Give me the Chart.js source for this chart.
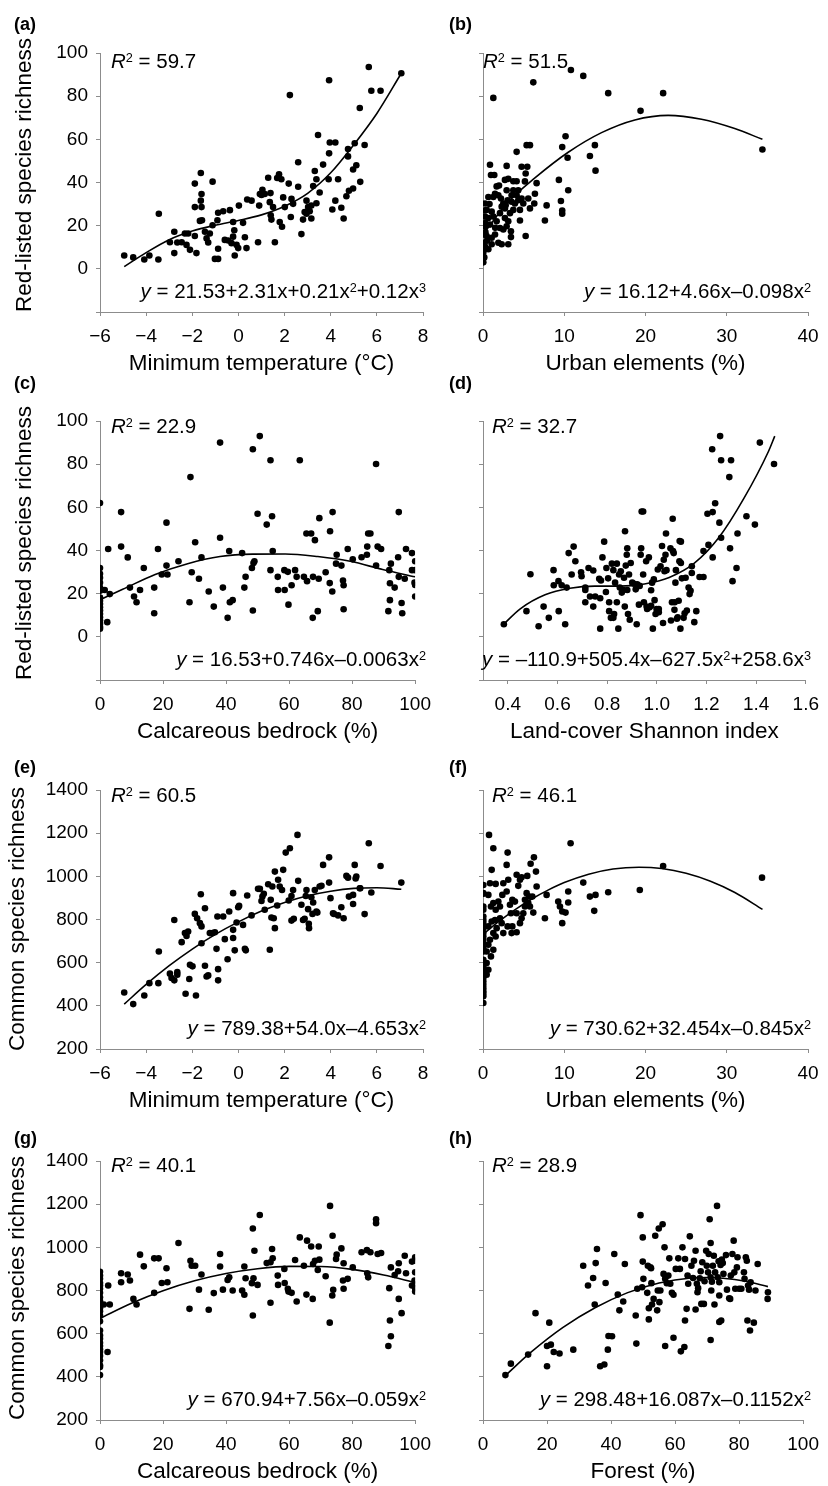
<!DOCTYPE html>
<html>
<head>
<meta charset="utf-8">
<script src="https://cdn.jsdelivr.net/npm/chart.js@4.4.1/dist/chart.umd.min.js"></script>
<style>
  body { margin: 0; background: #fff; }
  #fig { position: relative; width: 828px; height: 1486px; font-family: "Liberation Sans", Arial, sans-serif; color: #000; overflow: hidden; }
  canvas { position: absolute; }
  .t { position: absolute; white-space: nowrap; font-size: 20.5px; line-height: 20px; }
  .lab { font-weight: bold; font-size: 18px; }
  .yt { position: absolute; white-space: nowrap; font-size: 22.5px; line-height: 22px; transform: translate(-50%, -50%) rotate(-90deg); }
  sup { font-size: 0.62em; position: relative; top: -0.5em; vertical-align: baseline; line-height: 0; }
</style>
</head>
<body>
<div id="fig">
  <canvas id="ca" width="440" height="375" style="left:0;top:0"></canvas>
  <canvas id="cb" width="388" height="375" style="left:440px;top:0"></canvas>
  <canvas id="cc" width="440" height="375" style="left:0;top:368px"></canvas>
  <canvas id="cd" width="388" height="375" style="left:440px;top:368px"></canvas>
  <canvas id="ce" width="440" height="375" style="left:0;top:737px"></canvas>
  <canvas id="cf" width="388" height="375" style="left:440px;top:737px"></canvas>
  <canvas id="cg" width="440" height="375" style="left:0;top:1108px"></canvas>
  <canvas id="ch" width="388" height="375" style="left:440px;top:1108px"></canvas>

  <div class="t lab" style="left:14px;top:14px">(a)</div>
  <div class="t lab" style="left:449px;top:14px">(b)</div>
  <div class="t lab" style="left:14px;top:373px">(c)</div>
  <div class="t lab" style="left:449px;top:373px">(d)</div>
  <div class="t lab" style="left:14px;top:757px">(e)</div>
  <div class="t lab" style="left:449px;top:757px">(f)</div>
  <div class="t lab" style="left:14px;top:1128px">(g)</div>
  <div class="t lab" style="left:449px;top:1128px">(h)</div>

  <div class="yt" style="left:24px;top:175px">Red-listed species richness</div>
  <div class="yt" style="left:24px;top:543px">Red-listed species richness</div>
  <div class="yt" style="left:17px;top:919px">Common species richness</div>
  <div class="yt" style="left:17px;top:1288px">Common species richness</div>

  <div class="t" style="left:111px;top:51px"><i>R</i><sup>2</sup> = 59.7</div>
  <div class="t" style="left:483px;top:51px"><i>R</i><sup>2</sup> = 51.5</div>
  <div class="t" style="left:111px;top:416px"><i>R</i><sup>2</sup> = 22.9</div>
  <div class="t" style="left:492px;top:416px"><i>R</i><sup>2</sup> = 32.7</div>
  <div class="t" style="left:111px;top:785px"><i>R</i><sup>2</sup> = 60.5</div>
  <div class="t" style="left:492px;top:785px"><i>R</i><sup>2</sup> = 46.1</div>
  <div class="t" style="left:111px;top:1155px"><i>R</i><sup>2</sup> = 40.1</div>
  <div class="t" style="left:492px;top:1155px"><i>R</i><sup>2</sup> = 28.9</div>

  <div class="t" style="right:402px;top:281px"><i>y</i> = 21.53+2.31x+0.21x<sup>2</sup>+0.12x<sup>3</sup></div>
  <div class="t" style="right:17px;top:281px"><i>y</i> = 16.12+4.66x&#8211;0.098x<sup>2</sup></div>
  <div class="t" style="right:402px;top:649px"><i>y</i> = 16.53+0.746x&#8211;0.0063x<sup>2</sup></div>
  <div class="t" style="right:17px;top:649px"><i>y</i> = &#8211;110.9+505.4x&#8211;627.5x<sup>2</sup>+258.6x<sup>3</sup></div>
  <div class="t" style="right:402px;top:1018px"><i>y</i> = 789.38+54.0x&#8211;4.653x<sup>2</sup></div>
  <div class="t" style="right:17px;top:1018px"><i>y</i> = 730.62+32.454x&#8211;0.845x<sup>2</sup></div>
  <div class="t" style="right:402px;top:1389px"><i>y</i> = 670.94+7.56x&#8211;0.059x<sup>2</sup></div>
  <div class="t" style="right:17px;top:1389px"><i>y</i> = 298.48+16.087x&#8211;0.1152x<sup>2</sup></div>
</div>

<script>
// (a) red-listed richness vs minimum temperature
const ptsA = [[-4.95,6.2],[-4.56,5.3],[-4.08,4.3],[-3.86,6.2],[-3.47,4.3],[-3.45,25.5],[-2.97,12.3],[-2.78,17.2],[-2.78,7.3],[-2.65,12.2],
  [-2.46,12.3],[-2.32,16.4],[-2.25,11.1],[-2.18,16.4],[-2.1,8.8],[-1.89,15.2],[-1.82,7.3],[-1.67,22.2],[-1.89,28.6],[-1.89,39.5],
  [-1.63,44.4],[-1.6,34.7],[-1.63,31.6],[-1.6,28.6],[-1.58,22.5],[-1.45,17.2],[-1.38,14.1],[-1.31,12.2],[-1.24,16.4],[-1.12,40.4],
  [-1.12,20.2],[-1.02,4.6],[-0.88,4.6],[-0.91,22.5],[-0.88,26],[-0.88,9.3],[-0.66,26.7],[-0.59,13.4],[-0.44,13.1],[-0.37,27.2],
  [-0.3,11.9],[-0.23,21.7],[-0.18,17.9],[-0.23,14.9],[-0.16,6.2],[-0.08,11.1],[-0.01,9.6],[0.02,29.3],[0.2,21.3],[0.28,14.6],
  [0.35,9.6],[0.38,32.1],[0.57,31.6],[0.85,12.3],[0.9,29.3],[0.93,34.7],[1,34.2],[1.04,36.6],[1.14,34.7],[1.29,42.2],
  [1.39,35.1],[1.4,24.8],[1.36,30.9],[1.43,22.8],[1.5,28.6],[1.58,12.3],[1.68,42.1],[1.76,43.8],[1.86,41.5],[1.79,21.7],
  [1.89,19.5],[1.94,33.1],[2.01,28.6],[2.23,80.5],[2.18,39.5],[2.27,24],[2.3,32.4],[2.37,30.1],[2.59,49.4],[2.59,38],
  [2.73,16.1],[2.8,22.8],[2.87,26.3],[2.95,31.6],[3.02,28.6],[2.95,25.5],[3.09,26.7],[3.16,23.3],[3.16,29.3],[3.24,38.4],
  [3.31,45.3],[3.38,41.5],[3.38,30.4],[3.45,62],[3.52,35.4],[3.67,48.3],[3.93,87.4],[3.93,53.5],[3.96,58.5],[4.2,58.5],
  [3.91,41.5],[4.07,27.5],[4.2,31.6],[4.32,41.5],[4.46,28.3],[4.56,23.3],[4.68,33.6],[4.75,52.1],[4.75,55.5],[4.79,36.2],
  [4.97,37.2],[4.97,46],[5.11,48],[5.04,58.2],[5.26,74.5],[5.28,40.3],[5.47,57.4],[5.65,93.5],[5.76,82.5],[6.16,82.5],[7.06,90.6]];
const fitA = [[-4.95,1],[-4,7.5],[-3,13.5],[-2,17.5],[-1,20.2],[0,22.4],[1,25],[2,29],[3,35],[4,44.5],[5,57.5],[6,72],[7.06,90.6]];

// (b) red-listed richness vs urban elements
const ptsB = [[1.27,79.2],[6.19,86.4],[10.82,92.1],[12.34,89.4],[15.41,81.4],[19.39,73.2],[22.17,81.4],[34.39,55.3],[10.16,61.4],[9.75,56.4],
  [13.77,57.3],[13.16,52.3],[10.41,51.5],[13.85,45.5],[9.34,41.2],[10.49,36.4],[9.59,31.4],[9.75,27],[9.75,25.5],[7.83,29.4],
  [7.62,22.4],[6.6,39.7],[6.39,34.8],[6.31,30.3],[5.37,57.3],[5.78,57.3],[4.14,54.2],[4.75,47.3],[5.45,47.3],[5.25,44.2],
  [5.16,40.5],[5.25,15.2],[3.44,17.4],[3.11,11.4],[3.44,14.7],[2.91,47.7],[0.86,48.2],[0.98,43.5],[1.39,43.5],[1.97,38.6],
  [1.68,38.2],[2.7,41.2],[3.11,41.7],[3.73,40.6],[4.14,40.6],[2.91,36.4],[3.73,36.4],[4.34,36.4],[4.75,32.6],[4.96,30.3],
  [4.34,31.8],[4.55,27.3],[4.55,22.4],[5.57,32.6],[5.78,28],[3.03,31.8],[2.5,30.3],[2.3,28.8],[1.89,34.1],[1.48,34.8],
  [1.27,33.3],[0.66,33.3],[0.25,30.3],[0.45,27.3],[1.07,26.5],[0.66,23.5],[0.25,21.2],[0.86,20.5],[1.68,22],[2.7,23.5],
  [3.11,22],[3.32,25.8],[3.73,27.3],[2.7,28],[1.48,15.9],[1.07,14.4],[0.45,15.2],[0.04,15.9],[0.04,12.1],[0.25,10.3],
  [0.66,9.1],[1.07,11.4],[1.89,12.1],[2.3,11.4],[0.04,7.6],[0.16,5.3],[0.04,3],[0.25,19.7],[2.09,18.9],[2.5,18.2],
  [2.91,19.7],[3.93,30.3],[0.25,24.2],[1.27,24.2],[2.09,25.8],[3.52,34.1],[2.21,32.6],[2.79,29.5],[3.52,31.1],[4.14,34.1],
  [0.1,9],[0.3,17],[0.5,13],[0.2,27],[0.8,30],[1.5,19]];
const fitB = [[0,16],[3.11,31],[6.39,42.1],[10.49,54],[14.59,63.1],[18.69,69],[22.79,71.1],[26.89,69.3],[30.98,65],[34.39,60]];

// (c) red-listed richness vs calcareous bedrock
const ptsC = [[0,62],[0,31.9],[0,29.2],[0,27.4],[0,25.1],[0,22.8],[0,21.3],[0,18.2],[0,16.7],[0,15.2],[0,13.7],[0,12.2],[0,10.6],
  [0,9.1],[0,7.6],[0,6.1],[0,4.6],[0,3.8],[1.5,21.7],[2.6,40.7],[2.3,6.8],[3.1,19.8],[6.7,57.8],[6.7,41.8],[8.8,36.8],
  [9.5,22.8],[10.8,18.7],[11.6,16],[12.7,21.7],[13.9,31.9],[17.2,22.8],[17.2,10.9],[18.4,40.7],[19.6,28.9],[21.1,52.9],
  [21.1,33],[21.4,28.9],[24.9,35],[28.4,16],[28.7,74],[29.1,29.9],[30.2,43.8],[31.4,26.9],[32.2,36.8],[34.5,21],
  [36.1,14],[38.1,90],[38.1,45.9],[39,22.8],[40.5,8.8],[41,39.8],[41.2,16],[42.1,17],[45.1,38.8],[45.8,22.8],
  [46.2,27.8],[48.2,31.9],[48.5,86.9],[48.5,12.2],[48.7,34.2],[49,35],[50,57],[50.7,93],[52.9,52],[54.1,81.8],
  [54.6,55.9],[54.8,39.8],[54.1,30.9],[56.4,27.8],[56.5,21.7],[58.5,30.9],[58.6,21.7],[59.6,30.1],[59.8,14.9],[60.8,23.9],
  [61.9,30.9],[62.4,27.8],[63.4,81.8],[64.7,27.8],[65.5,47.9],[65.7,25.8],[67,47.9],[67.5,8.8],[67.6,27.8],[68.2,44.8],
  [69.1,11.9],[69.4,26.9],[69.6,55],[71.6,29.9],[72.9,24.9],[73,48.9],[73.8,57.8],[73.7,21],[75.1,38],[74.9,33.9],
  [76.6,33],[77.1,26.1],[77.3,23.9],[77.3,12.8],[78.6,40.7],[80.2,35.9],[83,36.9],[84.7,38],[84.8,41.8],[85.1,47.9],
  [85.8,47.9],[87.6,80.1],[87.6,33],[88.1,41.8],[89.2,40.7],[91.8,30.9],[92,24.8],[92.3,33.9],[92,17],[91.5,11.9],
  [93.5,22.8],[94.6,36.9],[94.8,57.8],[94.8,27.8],[95.7,15.7],[95.9,10.9],[96.7,26.9],[97.1,40.7],[99,38.8],[99,30.9],
  [100,35],[100,30.9],[99.8,25.1],[100,24],[100,18.7]];
const fitC = [[0,17.2],[7.2,22],[17.5,28.9],[27.8,33.9],[38.1,37.2],[48.5,38.3],[58.8,38.4],[69.1,37.2],[79.4,35],[89.7,31.2],[100,27.8]];

// (d) red-listed richness vs land-cover Shannon index
const ptsD = [[0.384,5.8],[0.475,11.9],[0.491,29],[0.524,4.9],[0.544,14],[0.565,8.8],[0.584,30.9],[0.585,23.9],[0.604,25.8],[0.605,11.9],
  [0.617,23.9],[0.631,5.8],[0.637,22.8],[0.645,38.8],[0.657,28.9],[0.665,41.8],[0.672,35],[0.695,29.9],[0.697,28.1],[0.712,22.8],
  [0.712,21.7],[0.712,16],[0.725,31.9],[0.731,18.7],[0.744,30.7],[0.744,14],[0.752,18.7],[0.768,26.9],[0.772,17.9],[0.772,3.8],
  [0.775,26.1],[0.781,36.8],[0.788,44.1],[0.795,20.8],[0.797,31.9],[0.804,27.1],[0.808,16],[0.808,11.9],[0.815,8.8],[0.819,33.9],
  [0.825,30.9],[0.825,8.8],[0.828,10.6],[0.832,25.1],[0.839,16],[0.839,33.9],[0.845,3.8],[0.848,28.9],[0.851,22.8],[0.855,30.4],
  [0.859,20.5],[0.865,21.7],[0.868,27.4],[0.871,14],[0.872,48.9],[0.875,33],[0.879,38],[0.881,21.7],[0.881,41],[0.884,10.6],
  [0.888,28.9],[0.891,7.9],[0.895,34.2],[0.901,25.1],[0.908,24.6],[0.915,22],[0.919,5.8],[0.921,24.3],[0.928,14.9],[0.931,23.6],
  [0.935,38],[0.937,41],[0.939,58.1],[0.945,58.1],[0.945,28.9],[0.948,16],[0.957,35],[0.959,14],[0.961,12.9],[0.968,36.8],
  [0.971,13.7],[0.977,21.6],[0.977,14.4],[0.981,25.1],[0.984,3.8],[0.988,26.6],[0.991,17],[0.995,10.6],[0.999,12.9],[1.004,31.2],
  [1.008,12.9],[1.008,11.4],[1.015,32.7],[1.021,42.1],[1.025,6.4],[1.028,35.7],[1.031,30.4],[1.035,38],[1.037,47.9],[1.039,30.9],
  [1.055,41],[1.057,7.6],[1.061,16],[1.064,54.7],[1.065,39.8],[1.068,38.8],[1.071,12.5],[1.072,16],[1.075,25.1],[1.077,30.9],
  [1.081,8.4],[1.084,9.1],[1.088,16.7],[1.091,35],[1.092,44.4],[1.095,3.8],[1.097,44.1],[1.097,34.2],[1.101,27.1],[1.108,8.8],
  [1.112,10.9],[1.116,27.4],[1.121,12.2],[1.128,22.8],[1.132,19.8],[1.136,21.3],[1.141,32.7],[1.141,29.6],[1.151,6.8],[1.159,11.9],
  [1.172,27.7],[1.188,27.7],[1.188,39.8],[1.204,57],[1.208,42.6],[1.223,86.9],[1.225,57.8],[1.225,36.8],[1.235,61.9],[1.252,52.9],
  [1.255,93],[1.259,45.9],[1.259,81.8],[1.292,74],[1.295,41],[1.299,81.8],[1.305,25.8],[1.321,31.9],[1.325,47.9],[1.361,55.9],
  [1.395,52],[1.415,90],[1.472,80.1]];
const fitD = [[0.38,5.5],[0.45,13],[0.55,19.5],[0.65,22.5],[0.75,23.5],[0.85,23.5],[0.95,24.5],[1.05,27.5],[1.15,34],[1.25,46],
  [1.35,64],[1.45,86],[1.475,93]];

// (e) common richness vs minimum temperature
const ptsE = [[-4.95,462],[-4.56,408],[-4.08,448],[-3.86,505],[-3.47,505],[-3.45,652],[-2.97,549],[-2.9,529],[-2.78,518],[-2.65,556],
  [-2.65,544],[-2.78,798],[-2.46,695],[-2.32,737],[-2.25,724],[-2.18,744],[-2.29,456],[-2.13,524],[-2.1,590],[-1.99,583],
  [-1.84,448],[-1.89,826],[-1.79,806],[-1.67,783],[-1.6,768],[-1.6,690],[-1.63,917],[-1.45,586],[-1.38,536],[-1.31,541],
  [-1.45,852],[-1.24,737],[-1.12,737],[-1.02,741],[-0.95,664],[-0.91,814],[-0.88,570],[-0.88,518],[-0.66,814],[-0.59,709],
  [-0.47,616],[-0.4,837],[-0.23,714],[-0.23,752],[-0.23,922],[-0.16,657],[-0.08,786],[-0.01,857],[0.03,863],[0.2,775],
  [0.28,664],[0.32,657],[0.38,911],[0.57,819],[0.85,942],[0.93,942],[1,886],[1.04,906],[1.1,919],[1.14,845],
  [1.29,963],[1.36,660],[1.4,891],[1.43,809],[1.47,953],[1.53,806],[1.58,760],[1.58,1022],[1.68,865],[1.72,984],
  [1.79,953],[1.89,937],[1.94,1030],[2.05,1110],[2.23,1130],[2.18,888],[2.3,795],[2.3,909],[2.37,937],[2.4,803],
  [2.56,1192],[2.59,979],[2.73,868],[2.8,798],[2.87,803],[2.92,909],[2.95,937],[3.02,848],[3.05,780],[3.06,760],
  [3.16,903],[3.21,826],[3.24,879],[3.31,937],[3.38,837],[3.42,832],[3.52,953],[3.6,956],[3.67,1053],[3.93,1088],
  [3.93,971],[3.99,899],[4.1,829],[4.14,826],[4.32,819],[4.46,857],[4.56,806],[4.68,1002],[4.75,994],[4.79,906],
  [4.97,914],[4.97,872],[5.04,1053],[5.11,999],[5.08,990],[5.26,945],[5.28,945],[5.47,825],[5.65,1153],[5.76,925],
  [6.16,1048],[7.06,971]];
const fitE = [[-4.95,408],[-4,499],[-3,586],[-2,663],[-1,731],[0,789],[1,839],[2,879],[3,910],[4,931],[5,944],[6,947],[7.06,940]];

// (f) common richness vs urban elements
const ptsF = [[0.04,960],[0.04,922],[0.04,919],[0.04,860],[0.04,845],[0.04,814],[0.04,798],[0.04,783],[0.04,760],[0.04,737],
  [0.04,721],[0.04,706],[0.04,690],[0.04,667],[0.04,652],[0.04,613],[0.04,583],[0.04,567],[0.04,549],[0.04,529],
  [0.04,513],[0.04,498],[0.04,482],[0.04,467],[0.04,456],[0.04,444],[0.04,413],[0.74,1192],[1.27,1130],[1.07,1030],
  [3.03,1110],[2.91,1053],[0.86,968],[1.56,965],[0.66,914],[1.27,876],[0.98,860],[1.89,883],[2.5,968],[3.11,984],
  [2.91,930],[2.38,914],[2.09,860],[1.56,845],[1.48,798],[2.09,806],[2.3,783],[1.68,760],[1.27,737],[1.56,721],
  [0.86,706],[0.66,683],[1.27,660],[0.45,652],[0.98,629],[0.45,598],[0.66,567],[0.25,559],[0.45,544],[0.66,768],
  [1.07,791],[2.5,737],[3.03,768],[3.52,737],[3.61,768],[4.14,741],[3.32,868],[3.61,891],[3.93,883],[3.44,829],
  [4.14,829],[4.55,783],[4.75,806],[4.14,1007],[4.55,984],[4.34,956],[4.75,996],[5.45,1002],[5.86,1058],[6.27,1088],
  [6.52,1022],[6.6,953],[5.37,922],[5.16,891],[5.57,876],[5.16,860],[4.96,829],[5.66,906],[6.07,906],[6.19,832],
  [5.78,860],[7.62,806],[7.83,914],[9.26,883],[9.47,860],[9.75,837],[9.75,783],[10.16,832],[10.49,930],[10.49,879],
  [10.78,1153],[12.34,971],[13.16,906],[13.85,914],[13.69,840],[15.41,926],[19.3,937],[22.17,1048],[34.34,994]];
const fitF = [[0,731],[2,792],[4,847],[6,895],[8,936],[10,971],[13,1010],[16,1034],[19.2,1042],[22,1036],[25,1014],[28,977],[31,925],[34.4,847]];

// (g) common richness vs calcareous bedrock
const ptsG = [[0,887],[0,869],[0,854],[0,835],[0,823],[0,808],[0,789],[0,769],[0,751],[0,735],[0,718],[0,704],[0,684],
  [0,657],[0,615],[0,592],[0,577],[0,558],[0,543],[0,528],[0,515],[0,497],[0,477],[0,454],[0,446],[0,408],
  [1.2,735],[2.6,823],[2.4,515],[3.1,735],[6.7,880],[6.7,838],[8.8,874],[9.5,846],[10.6,761],[11.6,735],
  [12.7,966],[13.9,912],[17.2,949],[17.2,789],[18.6,949],[19.6,835],[21.1,903],[21.4,838],[24.9,1020],[28.4,715],
  [28.7,938],[29.1,915],[30.2,915],[31.4,804],[32.2,874],[34.5,711],[36.1,788],[38.1,969],[38.1,911],[39,804],
  [40.5,849],[41,861],[42.1,800],[45.1,800],[45.8,780],[45.8,911],[46.2,857],[48.2,834],[48.5,1087],[48.5,684],
  [48.7,857],[49,984],[50,826],[50.7,1150],[52.9,927],[54.1,743],[54.1,931],[54.6,992],[54.8,949],[56.4,869],
  [56.5,826],[58.5,900],[58.6,835],[59.6,808],[59.8,795],[60.8,789],[62.4,749],[61.9,941],[63.4,1046],[64.7,915],
  [65.5,781],[65.7,1031],[67,1004],[67.5,761],[67.6,923],[68.2,938],[69.1,895],[69.4,1004],[69.6,943],[71.6,866],
  [72.9,651],[73,1192],[73.8,1054],[73.7,777],[74,803],[75.1,966],[74.9,946],[76.6,995],[77.1,846],[77.3,808],
  [77.3,926],[78.6,854],[80.2,907],[83,977],[84.7,987],[84.8,880],[85.1,861],[85.8,977],[87.6,1130],[87.6,1112],
  [88.1,969],[89.2,974],[91.8,811],[92,661],[92.3,588],[91.5,543],[92.3,907],[93.5,872],[94.6,889],[94.8,761],
  [94.8,926],[95.7,695],[96.7,961],[97.1,880],[99,934],[99,823],[100,954],[100,938],[100,884],[99.8,846],
  [100,828],[100,811],[100,795]];
const fitG = [[0,671],[10,741],[20,799],[30,845],[40,879],[50,901],[60,912],[70,911],[80,898],[90,872],[100,837]];

// (h) common richness vs forest
const ptsH = [[7,408],[8.7,461],[14.1,503],[16.4,695],[20,449],[20,543],[20.7,651],[21.2,549],[22.1,515],[23.9,508],
  [28.2,526],[31.3,915],[32.8,823],[34.4,858],[34.9,735],[35.2,927],[35.6,992],[38.3,835],[36.6,449],[37.9,457],
  [39,526],[39.2,589],[40.3,588],[41,969],[42.1,781],[42.6,708],[43.8,749],[44.3,923],[47.7,684],[47.9,554],
  [48.2,808],[49.2,1149],[49.7,815],[49.9,934],[49.9,1046],[50.1,854],[51.3,789],[51.5,915],[51.8,666],[51.8,718],
  [52.3,907],[52.5,903],[52.6,834],[52.8,735],[53.3,761],[53.8,1054],[54.4,708],[54.6,800],[54.9,1087],[55.1,746],
  [55.4,800],[56.1,1107],[56.4,877],[56.7,1000],[56.9,854],[56.9,543],[57.4,834],[57.9,869],[58.5,831],[58.2,949],
  [59,789],[59.5,780],[59.5,581],[60.2,900],[61,949],[61.5,900],[61.8,518],[62.3,1000],[62.9,538],[63.1,661],
  [63.1,946],[63.6,715],[63.9,869],[64.1,831],[64.6,1051],[65.1,915],[65.6,858],[65.9,938],[66.4,984],[66.4,712],
  [66.8,831],[67,792],[67.2,811],[67.7,857],[68,889],[68.2,738],[68.5,931],[69,738],[69.2,843],[69.7,984],
  [69.9,915],[70.3,884],[70.5,969],[70.8,1130],[71.1,1020],[71.1,861],[71.3,800],[71.1,571],[71.5,841],[71.8,915],
  [72.1,961],[72.3,735],[72.5,884],[73.1,1192],[73.3,861],[73.6,935],[73.8,777],[73.8,654],[73.8,838],[74.2,918],
  [74.4,661],[74.6,943],[74.9,927],[75.1,877],[75.9,964],[76.2,804],[76.9,764],[77.2,761],[77.4,869],[77.9,969],
  [78.3,1031],[78.5,884],[78.8,808],[79.3,907],[79.5,954],[80,808],[80.7,808],[81.5,884],[81.7,854],[82.1,954],
  [82.4,938],[82.6,661],[82.8,823],[83.1,804],[83.4,615],[83.6,838],[84.6,651],[85.1,800],[85.8,923],[89,792],[88.9,761]];
const fitH = [[7,406],[15,514],[25,629],[35,720],[45,789],[55,835],[65,858],[70,860],[75,857],[82,843],[89,818]];

// axis ticks
const ticksTemp = [-6, -4, -2, 0, 2, 4, 6, 8];
const ticksUrban = [0, 10, 20, 30, 40];
const ticksPct = [0, 20, 40, 60, 80, 100];
const ticksShannon = [0.4, 0.6, 0.8, 1.0, 1.2, 1.4, 1.6];
const ticksRed = [-20, 0, 20, 40, 60, 80, 100];
const ticksCommon = [200, 400, 600, 800, 1000, 1200, 1400];

const FONT = "'Liberation Sans', Arial, sans-serif";
const GREY = "#8c8c8c";

function label(v, dec) {
  if (v === -20) return "";
  const s = dec ? Math.abs(v).toFixed(1) : String(Math.abs(v));
  return (v < 0 ? "\u2212" : "") + s;
}

function drawPanel(id, pts, fit, xt, xr, xTitle, yt, yr, isLeft, dec) {
  new Chart(document.getElementById(id), {
    type: "scatter",
    data: {
      datasets: [
        {
          data: pts.map(p => ({ x: p[0], y: p[1] })),
          pointRadius: 3.3,
          pointBackgroundColor: "#000",
          pointBorderWidth: 0,
          order: 2
        },
        {
          type: "line",
          data: fit.map(p => ({ x: p[0], y: p[1] })),
          borderColor: "#000",
          borderWidth: 1.6,
          pointRadius: 0,
          cubicInterpolationMode: "monotone",
          fill: false,
          order: 1
        }
      ]
    },
    options: {
      responsive: false,
      animation: false,
      events: [],
      layout: { padding: { top: 53, right: isLeft ? 17 : 20, left: 0, bottom: 0 } },
      plugins: { legend: { display: false }, tooltip: { enabled: false } },
      scales: {
        x: {
          type: "linear",
          min: xr[0],
          max: xr[1],
          afterBuildTicks: s => { s.ticks = xt.map(v => ({ value: v })); },
          afterFit: s => { s.height = 63; },
          ticks: { color: "#000", padding: 9, maxRotation: 0, font: { family: FONT, size: 19 }, callback: v => label(v, dec) },
          grid: { drawOnChartArea: false, color: GREY, tickLength: 4 },
          border: { color: GREY },
          title: { display: true, text: xTitle, color: "#000", padding: 0, font: { family: FONT, size: 22.5, lineHeight: 1 } }
        },
        y: {
          type: "linear",
          min: yr[0],
          max: yr[1],
          afterBuildTicks: s => { s.ticks = yt.map(v => ({ value: v })); },
          afterFit: s => { s.width = isLeft ? 100 : 43; },
          ticks: { display: isLeft, color: "#000", padding: 8, font: { family: FONT, size: 19 }, callback: v => label(v, false) },
          grid: { drawOnChartArea: false, color: GREY, tickLength: 4 },
          border: { color: GREY }
        }
      }
    }
  });
}

drawPanel("ca", ptsA, fitA, ticksTemp, [-6, 8], "Minimum temperature (\u00B0C)", ticksRed, [-20, 100], true, false);
drawPanel("cb", ptsB, fitB, ticksUrban, [0, 40], "Urban elements (%)", ticksRed, [-20, 100], false, false);
drawPanel("cc", ptsC, fitC, ticksPct, [0, 100], "Calcareous bedrock (%)", ticksRed, [-20, 100], true, false);
drawPanel("cd", ptsD, fitD, ticksShannon, [0.3, 1.6], "Land-cover Shannon index", ticksRed, [-20, 100], false, true);
drawPanel("ce", ptsE, fitE, ticksTemp, [-6, 8], "Minimum temperature (\u00B0C)", ticksCommon, [200, 1400], true, false);
drawPanel("cf", ptsF, fitF, ticksUrban, [0, 40], "Urban elements (%)", ticksCommon, [200, 1400], false, false);
drawPanel("cg", ptsG, fitG, ticksPct, [0, 100], "Calcareous bedrock (%)", ticksCommon, [200, 1400], true, false);
drawPanel("ch", ptsH, fitH, ticksPct, [0, 100], "Forest (%)", ticksCommon, [200, 1400], false, false);
</script>
</body>
</html>
